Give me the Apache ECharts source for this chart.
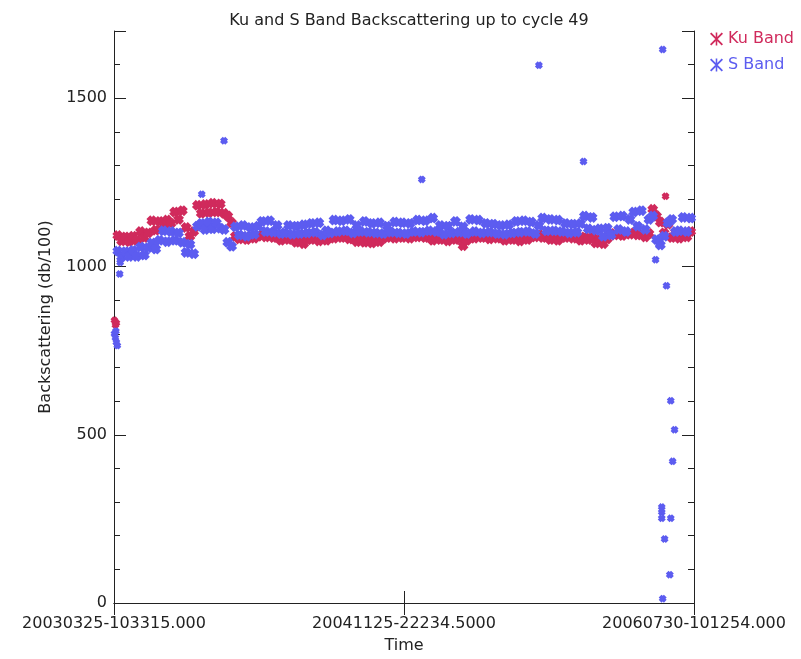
<!DOCTYPE html>
<html>
<head>
    <meta charset="UTF-8">
    <title>Ku and S Band Backscattering</title>
    <script src="https://cdn.jsdelivr.net/npm/echarts@6/dist/echarts.min.js"></script>
</head>
<body style="margin:0;background:#ffffff">
    <div id="chart" style="width:801px; height:659px;"></div>
    <script>
        // time axis runs in days from the first measurement
        var xTickLabels = ['20030325-103315.000', '20041125-22234.5000', '20060730-101254.000'];
        var spanDays = 1223;
        var yTicks = [0, 500, 1000, 1500];

        // main band, one value every 8 days starting at day 8
        var bandStart = 8;
        var bandStep = 8;
        var kuBand = [
            1092, 1076, 1088, 1074, 1090, 1078, 1104, 1086, 1100, 1136,
            1108, 1134, 1122, 1138, 1128, 1162, 1140, 1166, 1116, 1090,
            1104, 1182, 1158, 1184, 1160, 1188, 1162, 1186, 1158, 1150,
            1130, 1090, 1082, 1088, 1080, 1090, 1084, 1090, 1094, 1088,
            1094, 1086, 1088, 1078, 1088, 1080, 1086, 1072, 1082, 1068,
            1080, 1080, 1088, 1076, 1086, 1078, 1092, 1084, 1092, 1086,
            1090, 1082, 1084, 1074, 1084, 1072, 1082, 1070, 1082, 1074,
            1084, 1086, 1092, 1084, 1092, 1086, 1092, 1084, 1092, 1088,
            1094, 1086, 1094, 1078, 1088, 1080, 1088, 1076, 1086, 1080,
            1086, 1062, 1078, 1092, 1084, 1092, 1086, 1092, 1082, 1090,
            1084, 1092, 1078, 1088, 1080, 1086, 1076, 1088, 1080, 1094,
            1088, 1096, 1086, 1094, 1080, 1088, 1078, 1088, 1086, 1092,
            1084, 1092, 1078, 1088, 1080, 1088, 1070, 1080, 1068, 1082,
            1098, 1094, 1100, 1092, 1098, 1096, 1100, 1094, 1096, 1088,
            1098, 1170, 1150, 1132, 1100, 1126, 1086, 1102, 1084, 1100,
            1088, 1104
        ];
        var sBand = [
            1046, 1028, 1044, 1030, 1048, 1030, 1058, 1034, 1056, 1070,
            1052, 1078, 1106, 1074, 1104, 1078, 1100, 1072, 1042, 1066,
            1038, 1120, 1128, 1110, 1132, 1112, 1130, 1114, 1110, 1072,
            1060, 1118, 1094, 1122, 1090, 1116, 1096, 1120, 1134, 1104,
            1136, 1102, 1122, 1098, 1100, 1122, 1096, 1120, 1098, 1124,
            1100, 1128, 1102, 1130, 1094, 1106, 1100, 1138, 1104, 1136,
            1106, 1140, 1100, 1122, 1104, 1134, 1102, 1128, 1100, 1130,
            1098, 1120, 1102, 1132, 1100, 1130, 1098, 1128, 1104, 1138,
            1102, 1136, 1106, 1144, 1104, 1122, 1096, 1120, 1100, 1134,
            1102, 1118, 1098, 1140, 1104, 1138, 1100, 1128, 1102, 1126,
            1098, 1122, 1096, 1124, 1100, 1134, 1102, 1136, 1104, 1132,
            1098, 1122, 1144, 1106, 1140, 1106, 1138, 1104, 1128, 1100,
            1126, 1102, 1128, 1150, 1112, 1146, 1108, 1112, 1090, 1114,
            1094, 1148, 1110, 1150, 1104, 1140, 1162, 1120, 1166, 1110,
            1140, 1150, 1080, 1064, 1090, 1130, 1140, 1104, 1106, 1146,
            1104, 1144
        ];

        // points off the main band: [day, value]
        var kuExtra = [[1, 840], [3, 826], [5, 832], [1163, 1209]];
        var sExtra = [
            [1, 800], [3, 788], [4, 808], [5, 775], [7, 765], [12, 978], [13, 1012],
            [185, 1215], [232, 1374], [649, 1259], [896, 1598], [990, 1312],
            [1157, 1645], [1142, 1020], [1149, 1067], [1149, 1082], [1165, 943],
            [1174, 601], [1182, 515], [1178, 421], [1155, 285], [1155, 270],
            [1155, 252], [1174, 252], [1161, 190], [1172, 84], [1157, 13]
        ];

        var kuColor = '#d02a5c';
        var sColor = '#5c5cf0';
        // fat X with a filled middle, the way the plot's symbols come out
        var star = 'path://M0 3.5L3.5 0L5 1.5L6.5 0L10 3.5L8.5 5L10 6.5L6.5 10L5 8.5L3.5 10L0 6.5L1.5 5Z';
        var starThin = 'path://M4.4 0H5.6V10H4.4Z M0 1L1 0L10 9L9 10Z M9 0L10 1L1 10L0 9Z';
        var font = 'DejaVu Sans';

        function bandPoints(vals) {
            var out = [];
            for (var i = 0; i < vals.length; i++) {
                out.push([bandStart + i * bandStep, vals[i]]);
            }
            return out;
        }
        // band marks overlap into a solid strip, stray points stay small
        function sizeFor(n) {
            return function (val, params) { return params.dataIndex < n ? 11 : 8; };
        }

        var chart = echarts.init(document.getElementById('chart'), null, {renderer: 'canvas'});

        var leftY = {
            type: 'value', position: 'left', min: 0, max: 1700, interval: 500,
            axisLine: {show: true, lineStyle: {color: '#222'}},
            axisTick: {show: true, inside: true, length: 12, lineStyle: {color: '#222'}},
            axisLabel: {
                margin: 7, color: '#222', fontFamily: font, fontSize: 16,
                formatter: function (v) { return yTicks.indexOf(v) >= 0 ? String(v) : ''; }
            },
            splitLine: {show: false},
            name: 'Backscattering (db/100)', nameLocation: 'middle', nameGap: 60,
            nameTextStyle: {color: '#222', fontFamily: font, fontSize: 16}
        };
        function minorY(pos) {
            return {
                type: 'value', position: pos, min: 0, max: 1700, interval: 100,
                axisLine: {show: false},
                axisTick: {show: true, inside: true, length: 6, lineStyle: {color: '#222'}},
                axisLabel: {show: false}, splitLine: {show: false}
            };
        }
        var rightY = {
            type: 'value', position: 'right', min: 0, max: 1700, interval: 500,
            axisLine: {show: true, lineStyle: {color: '#222'}},
            axisTick: {show: true, inside: true, length: 12, lineStyle: {color: '#222'}},
            axisLabel: {show: false}, splitLine: {show: false}
        };

        var option = {
            backgroundColor: '#ffffff',
            animation: false,
            title: {
                text: 'Ku and S Band Backscattering up to cycle 49',
                left: 404, top: 8, textAlign: 'center',
                textStyle: {color: '#222', fontFamily: font, fontSize: 16, fontWeight: 'normal'}
            },
            legend: {
                orient: 'vertical', left: 705, top: 26, itemGap: 10,
                itemWidth: 13, itemHeight: 13,
                textStyle: {fontFamily: font, fontSize: 16},
                data: [
                    {name: 'Ku Band', icon: starThin, textStyle: {color: kuColor}},
                    {name: 'S Band', icon: starThin, textStyle: {color: sColor}}
                ]
            },
            grid: {left: 114, right: 107, top: 31, bottom: 52},
            xAxis: [{
                type: 'value', position: 'bottom', min: 0, max: spanDays, interval: spanDays / 2,
                axisLine: {show: true, lineStyle: {color: '#222'}},
                axisTick: {show: true, inside: true, length: 12, lineStyle: {color: '#222'}},
                axisLabel: {
                    margin: 13, color: '#222', fontFamily: font, fontSize: 16,
                    showMinLabel: true, showMaxLabel: true,
                    formatter: function (v) { return xTickLabels[Math.round(v / (spanDays / 2))]; }
                },
                splitLine: {show: false},
                name: 'Time', nameLocation: 'middle', nameGap: 35,
                nameTextStyle: {color: '#222', fontFamily: font, fontSize: 16}
            }, {
                type: 'value', position: 'top', min: 0, max: spanDays, interval: spanDays / 2,
                axisLine: {show: true, lineStyle: {color: '#222'}},
                axisTick: {show: true, inside: true, length: 12, lineStyle: {color: '#222'}},
                axisLabel: {show: false}, splitLine: {show: false}
            }],
            yAxis: [leftY, minorY('left'), rightY, minorY('right')],
            series: [{
                name: 'Ku Band', type: 'scatter', xAxisIndex: 0, yAxisIndex: 0,
                symbol: star, symbolSize: sizeFor(kuBand.length),
                itemStyle: {color: kuColor, opacity: 1},
                data: bandPoints(kuBand).concat(kuExtra)
            }, {
                name: 'S Band', type: 'scatter', xAxisIndex: 0, yAxisIndex: 0,
                symbol: star, symbolSize: sizeFor(sBand.length),
                itemStyle: {color: sColor, opacity: 1},
                data: bandPoints(sBand).concat(sExtra)
            }]
        };
        chart.setOption(option);
    </script>
</body>
</html>
